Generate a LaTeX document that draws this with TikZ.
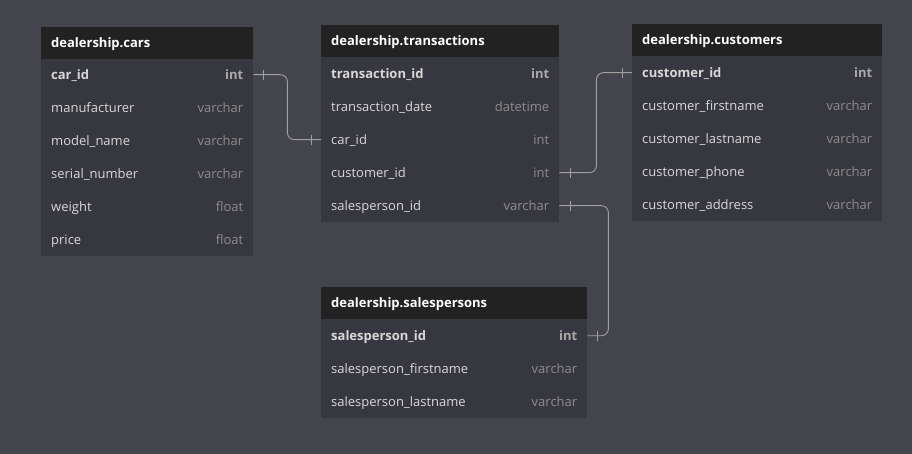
\documentclass[tikz,border=0pt]{standalone}
\usepackage{fontspec}
\setmainfont{Open Sans}
\definecolor{bg}{HTML}{44444C}
\definecolor{body}{HTML}{37373F}
\definecolor{head}{HTML}{222222}
\definecolor{nametxt}{HTML}{D8D8D8}
\definecolor{typetxt}{HTML}{8C8C8C}
\definecolor{pktype}{HTML}{A8A8A8}
\definecolor{conn}{HTML}{A0A0A0}
\tikzset{
  hbox/.style={fill=head, draw=none, inner sep=0pt, anchor=north west},
  htext/.style={text=white, font=\fontsize{13}{15}\selectfont\bfseries, anchor=base west, inner sep=0pt},
  ntext/.style={text=nametxt, font=\fontsize{13}{15}\selectfont, anchor=base west, inner sep=0pt},
  pktext/.style={text=nametxt, font=\fontsize{13}{15}\selectfont\bfseries, anchor=base west, inner sep=0pt},
  ttext/.style={text=typetxt, font=\fontsize{13}{15}\selectfont, anchor=base east, inner sep=0pt},
  pkttext/.style={text=pktype, font=\fontsize{13}{15}\selectfont\bfseries, anchor=base east, inner sep=0pt},
  rel/.style={draw=conn, line width=0.9pt, rounded corners=7pt},
  tick/.style={draw=conn, line width=0.9pt},
}
% \erow{id}{x0}{x1}{ytop}{name}{type}{namestyle}{typestyle}
\newcommand{\erow}[8]{%
  \node[minimum width=#3pt-#2pt, minimum height=33pt, inner sep=0pt, anchor=north west] (#1) at (#2,#4) {};
  \node[#7] (#1-n) at ([xshift=10pt,yshift=-4.5pt]#1.west) {#5};
  \node[#8] (#1-t) at ([xshift=-10pt,yshift=-4.5pt]#1.east) {#6};
}
\newcommand{\ehead}[6]{%
  % id x0 x1 ytop ybottom_of_table title
  \fill[body] (#2,#4) rectangle (#3,#5);
  \node[hbox, minimum width=#3pt-#2pt, minimum height=32pt] (#1) at (#2,#4) {};
  \node[htext] (#1-n) at ([xshift=10pt,yshift=-4.5pt]#1.west) {#6};
}
\begin{document}
\begin{tikzpicture}[x=1pt,y=-1pt]
\useasboundingbox (0,0) rectangle (912,454);
\fill[bg] (0,0) rectangle (912,454);

% cars
\ehead{cars}{41}{253}{27}{256}{dealership.cars}
\erow{cars-1}{41}{253}{58}{car\_id}{int}{pktext}{pkttext}
\erow{cars-2}{41}{253}{91}{manufacturer}{varchar}{ntext}{ttext}
\erow{cars-3}{41}{253}{124}{model\_name}{varchar}{ntext}{ttext}
\erow{cars-4}{41}{253}{157}{serial\_number}{varchar}{ntext}{ttext}
\erow{cars-5}{41}{253}{190}{weight}{float}{ntext}{ttext}
\erow{cars-6}{41}{253}{223}{price}{float}{ntext}{ttext}

% transactions
\ehead{tr}{321}{559}{25}{222}{dealership.transactions}
\erow{tr-1}{321}{559}{57}{transaction\_id}{int}{pktext}{pkttext}
\erow{tr-2}{321}{559}{90}{transaction\_date}{datetime}{ntext}{ttext}
\erow{tr-3}{321}{559}{123}{car\_id}{int}{ntext}{ttext}
\erow{tr-4}{321}{559}{156}{customer\_id}{int}{ntext}{ttext}
\erow{tr-5}{321}{559}{189}{salesperson\_id}{varchar}{ntext}{ttext}

% customers
\ehead{cu}{632}{882}{24}{221}{dealership.customers}
\erow{cu-1}{632}{882}{56}{customer\_id}{int}{pktext}{pkttext}
\erow{cu-2}{632}{882}{89}{customer\_firstname}{varchar}{ntext}{ttext}
\erow{cu-3}{632}{882}{122}{customer\_lastname}{varchar}{ntext}{ttext}
\erow{cu-4}{632}{882}{155}{customer\_phone}{varchar}{ntext}{ttext}
\erow{cu-5}{632}{882}{188}{customer\_address}{varchar}{ntext}{ttext}

% salespersons
\ehead{sp}{321}{587}{287}{418}{dealership.salespersons}
\erow{sp-1}{321}{587}{319}{salesperson\_id}{int}{pktext}{pkttext}
\erow{sp-2}{321}{587}{352}{salesperson\_firstname}{varchar}{ntext}{ttext}
\erow{sp-3}{321}{587}{385}{salesperson\_lastname}{varchar}{ntext}{ttext}

% relations
\draw[rel] (cars-1.east) -- ++(34,0) |- (tr-3.west);
\draw[tick] ([xshift=10pt]cars-1.east) ++(0,-5) -- ++(0,10);
\draw[tick] ([xshift=-10pt]tr-3.west) ++(0,-5) -- ++(0,10);

\draw[rel] (tr-4.east) -- ++(37,0) |- (cu-1.west);
\draw[tick] ([xshift=11pt]tr-4.east) ++(0,-5) -- ++(0,10);
\draw[tick] ([xshift=-10pt]cu-1.west) ++(0,-5) -- ++(0,10);

\draw[rel] (tr-5.east) -- ++(49,0) |- (sp-1.east);
\draw[tick] ([xshift=11pt]tr-5.east) ++(0,-5) -- ++(0,10);
\draw[tick] ([xshift=10pt]sp-1.east) ++(0,-5) -- ++(0,10);
\end{tikzpicture}
\end{document}
